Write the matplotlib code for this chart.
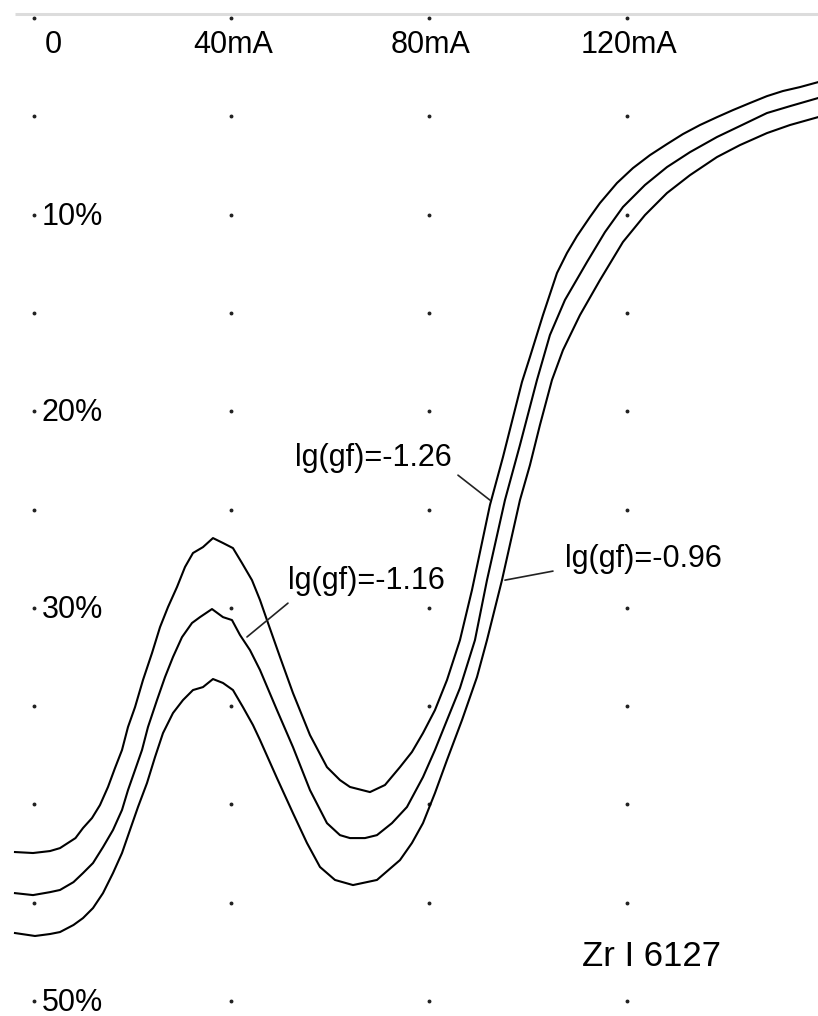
import matplotlib
matplotlib.use("Agg")
import matplotlib.pyplot as plt
import numpy as np

# curve data: lamp current (mA) vs. absorption (%)
top_x = [-3.74, -0.10, 3.33, 5.35, 8.48, 10.00, 11.82, 13.43, 15.05, 16.46, 17.88, 19.09,
         20.51, 22.12, 23.94, 25.56, 27.17, 28.99, 30.61, 32.22, 34.24, 36.26, 38.28, 40.30,
         42.12, 44.14, 45.76, 47.17, 49.80, 52.42, 55.86, 59.29, 61.92, 63.94, 67.98, 71.01,
         74.04, 76.46, 78.69, 81.11, 83.54, 86.16, 88.59, 92.22, 94.85, 98.69, 100.30,
         102.93, 105.76, 107.78, 109.80, 112.42, 114.44, 117.88, 121.11, 124.55, 127.98,
         131.21, 134.65, 138.08, 141.31, 144.75, 148.18, 151.41, 154.85, 158.48]
top_y = [42.42, 42.47, 42.37, 42.22, 41.71, 41.20, 40.69, 40.03, 39.11, 38.15, 37.23, 36.06,
         35.05, 33.67, 32.30, 30.98, 29.96, 28.94, 27.92, 27.21, 26.91, 26.45, 26.70, 26.96,
         27.72, 28.59, 29.60, 30.62, 32.50, 34.33, 36.47, 38.10, 38.76, 39.11, 39.37, 39.01,
         38.10, 37.33, 36.37, 35.20, 33.67, 31.64, 29.09, 24.77, 22.33, 18.51, 17.24,
         15.11, 12.97, 11.95, 11.09, 10.12, 9.41, 8.39, 7.63, 6.97, 6.41,
         5.90, 5.44, 5.04, 4.68, 4.32, 3.97, 3.71, 3.51, 3.26]

mid_x = [-3.74, -0.10, 3.33, 5.35, 8.08, 10.00, 12.02, 14.04, 16.06, 17.88, 19.09, 20.51,
         21.92, 23.13, 24.95, 26.57, 28.18, 30.00, 32.02, 33.64, 36.06, 38.28, 40.10, 41.72,
         43.74, 45.76, 49.19, 52.42, 55.86, 59.29, 61.92, 63.94, 66.97, 69.39, 72.42, 75.45,
         78.69, 81.11, 83.54, 86.16, 89.19, 91.62, 95.25, 98.28, 101.72, 104.34, 107.37,
         111.82, 115.45, 119.09, 123.54, 127.98, 132.63, 138.08, 142.73, 148.18, 152.83,
         158.48]
mid_y = [44.51, 44.61, 44.46, 44.35, 43.95, 43.49, 42.98, 42.17, 41.30, 40.28, 39.27, 38.25,
         37.23, 36.06, 34.69, 33.52, 32.50, 31.49, 30.77, 30.47, 30.06, 30.47, 30.62, 31.38,
         32.15, 33.16, 35.20, 37.08, 39.27, 40.95, 41.56, 41.71, 41.71, 41.56, 40.95, 40.13,
         38.61, 37.23, 35.71, 34.08, 31.64, 28.59, 24.52, 21.72, 18.41, 16.12, 14.34,
         12.41, 10.89, 9.61, 8.49, 7.58, 6.82, 6.05, 5.49, 4.83, 4.48,
         4.07]

bot_x = [-3.74, 0.30, 3.33, 5.35, 8.08, 10.00, 12.02, 14.04, 16.06, 17.88, 19.49, 21.11,
         22.93, 24.55, 26.16, 28.18, 30.20, 32.22, 34.24, 36.26, 38.28, 40.30, 42.32, 44.34,
         45.76, 49.19, 52.42, 55.25, 57.88, 60.91, 64.55, 69.39, 74.04, 76.46, 78.69, 81.11,
         83.54, 86.57, 89.60, 91.62, 94.65, 98.28, 100.30, 102.32, 104.75, 106.97, 110.40,
         114.44, 119.09, 123.54, 127.98, 132.63, 138.08, 142.73, 148.18, 152.83, 158.48]
bot_y = [46.54, 46.69, 46.59, 46.49, 46.13, 45.78, 45.27, 44.51, 43.49, 42.47, 41.30, 40.13,
         38.91, 37.59, 36.37, 35.35, 34.69, 34.18, 34.03, 33.62, 33.82, 34.18, 35.05, 35.96,
         36.72, 38.66, 40.44, 41.96, 43.18, 43.84, 44.10, 43.84, 42.83, 41.96, 40.95, 39.42,
         37.74, 35.71, 33.52, 31.64, 28.59, 24.52, 22.74, 20.70, 18.41, 16.89, 15.11,
         13.33, 11.39, 10.02, 8.90, 7.99, 7.07, 6.46, 5.85, 5.44, 5.04]

x_ticks = [0, 40, 80, 120]
x_tick_labels = ["0", "40mA", "80mA", "120mA"]
y_levels = [0, 5, 10, 15, 20, 25, 30, 35, 40, 45, 50]
y_tick_values = [10, 20, 30, 50]
y_tick_labels = ["10%", "20%", "30%", "50%"]
curve_labels = ["lg(gf)=-1.26", "lg(gf)=-1.16", "lg(gf)=-0.96"]
line_name = "Zr I 6127"

plt.rcParams['font.family'] = ['Liberation Sans', 'DejaVu Sans']

fig = plt.figure(figsize=(8.18, 10.16), dpi=100)
ax = fig.add_axes([0, 0, 1, 1])
ax.set_xlim(-6.77, 158.5)
ax.set_ylim(50.76, -0.92)
ax.axis('off')

# light grey frame line on top
ax.hlines(-0.2, -3.7, 158.5, color='#dcdcdc', lw=2.2)

# grid of dots
gx, gy = np.meshgrid(x_ticks, y_levels)
ax.plot(gx.ravel(), gy.ravel(), ls='none', marker='o', ms=1.8, color='#222222')

# curves
for xs, ys in [(top_x, top_y), (mid_x, mid_y), (bot_x, bot_y)]:
    ax.plot(xs, ys, color='black', lw=1.5)

fs = 22
for v, lab in zip(x_ticks, x_tick_labels):
    if v == 0:
        ax.text(v + 4.1, 1.78, lab, ha='center', va='baseline', fontsize=fs)
    else:
        ax.text(v + 0.3, 1.78, lab, ha='center', va='baseline', fontsize=fs)

for v, lab in zip(y_tick_values, y_tick_labels):
    ax.text(1.7, v + 0.5, lab, ha='left', va='baseline', fontsize=fs)

# curve labels with leader lines
leader = dict(arrowstyle='-', lw=1.2, color='#222222', shrinkA=0, shrinkB=0)

ax.text(52.8, 22.76, curve_labels[0], ha='left', va='baseline', fontsize=fs)
ax.annotate('', xy=(92.22, 24.52), xytext=(85.76, 23.25), arrowprops=leader)

ax.text(51.4, 29.04, curve_labels[1], ha='left', va='baseline', fontsize=fs)
ax.annotate('', xy=(43.13, 31.48), xytext=(51.41, 29.76), arrowprops=leader)

ax.text(107.4, 27.9, curve_labels[2], ha='left', va='baseline', fontsize=fs)
ax.annotate('', xy=(95.25, 28.59), xytext=(104.95, 28.13), arrowprops=leader)

ax.text(110.8, 48.2, line_name, ha='left', va='baseline', fontsize=25)

fig.savefig("out.png", dpi=100)
